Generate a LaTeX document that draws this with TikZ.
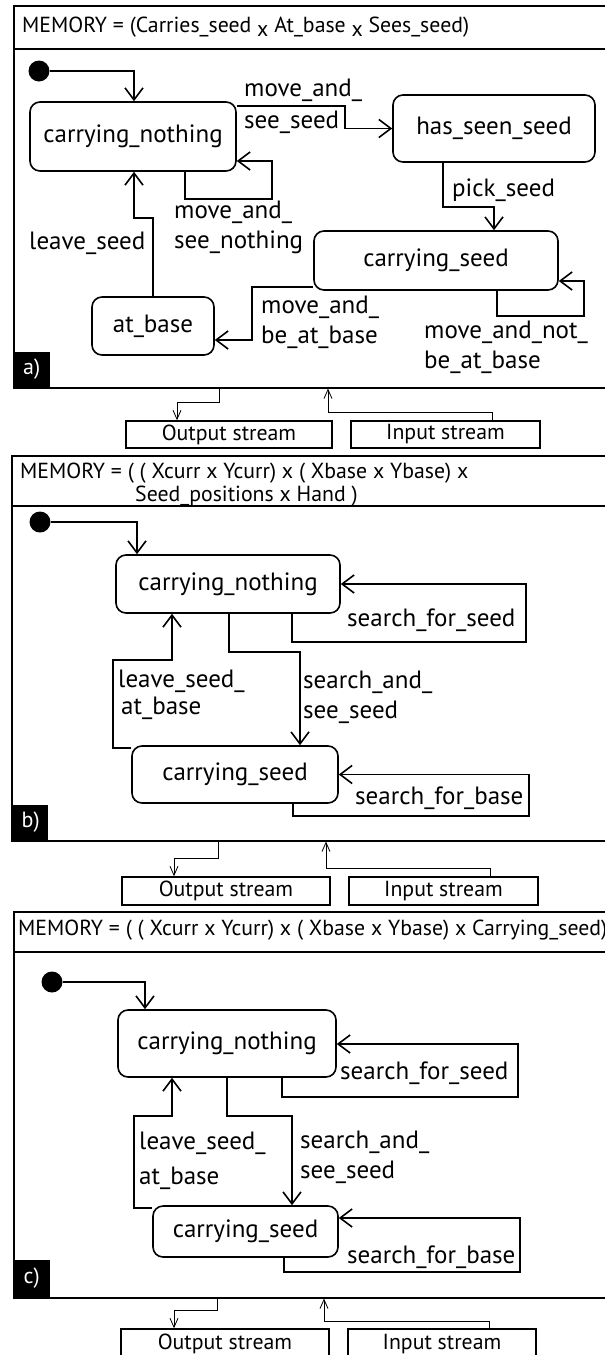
\documentclass[tikz,border=0pt]{standalone}
\usepackage{fontspec}
\setmainfont{PT Sans}
\usetikzlibrary{arrows.meta}
\begin{document}
\begin{tikzpicture}[x=1pt,y=-1pt,
  state/.style={draw, rounded corners=10pt, line width=1.6pt, inner sep=0pt,
    font=\fontsize{25}{29}\selectfont},
  lbl/.style={inner sep=0pt, anchor=west, align=left,
    font=\fontsize{25}{30}\selectfont},
  head/.style={inner sep=0pt, anchor=west, align=left,
    font=\fontsize{21.8}{23}\selectfont},
  panel/.style={draw, line width=1.6pt, inner sep=0pt, anchor=north west},
  sepline/.style={line width=1.6pt},
  tr/.style={line width=1.6pt, -{Straight Barb[length=12pt,width=18pt]}},
  io/.style={line width=0.8pt, -{Straight Barb[length=9pt,width=8pt]}},
  stream/.style={draw, line width=1.6pt, inner sep=0pt,
    font=\fontsize{21.8}{23}\selectfont},
  tag/.style={fill=black, text=white, inner sep=0pt, anchor=south west,
    font=\fontsize{22}{23}\selectfont},
  start/.style={circle, fill=black, inner sep=0pt, minimum size=21pt},
]
\useasboundingbox (0,0) rectangle (605,1355);
\fill[white] (0,0) rectangle (605,1355);

% ---------------- a) ----------------
\node[panel, minimum width=607pt, minimum height=382pt] (fa) at (13,5) {};
\draw[sepline] (13,49) -- (620,49);
\node[head] (ha) at (22,27) {MEMORY = (Carries\_seed \raisebox{-0.2em}{x} At\_base \raisebox{-0.2em}{x} Sees\_seed)};
\node[start] (dotA) at (39,71) {};
\node[state, minimum width=206pt, minimum height=69pt] (cnA) at (133,136.5) {carrying\_nothing};
\node[state, minimum width=202pt, minimum height=67pt] (hsA) at (494,128.5) {has\_seen\_seed};
\node[state, minimum width=244pt, minimum height=59pt] (csA) at (436,260.5) {carrying\_seed};
\node[state, minimum width=122pt, minimum height=58pt] (abA) at (153,326) {at\_base};

\draw[tr] (dotA.east) -| (cnA.north -| 134,0);
\draw[tr] (cnA.east |- 0,106) -- (345,106) |- (hsA.west);
\draw[tr] (cnA.south -| 185,0) |- (272,199) |- (cnA.east |- 0,161);
\draw[tr] (hsA.south -| 443,0) |- (494,207) -- (csA.north -| 494,0);
\draw[tr] (csA.south -| 497,0) |- (584,316) |- (csA.east |- 0,281);
\draw[tr] (csA.west |- 0,287) -| (252,340) -- (abA.east |- 0,340);
\draw[tr] (abA.north -| 153,0) |- (134,218) -- (cnA.south -| 134,0);

\node[lbl] (l1a) at (244,106) {move\_and\_\\[2pt]see\_seed};
\node[lbl] (l2a) at (174,227) {move\_and\_\\see\_nothing};
\node[lbl] (l3a) at (29,243) {leave\_seed};
\node[lbl] (l4a) at (452,190) {pick\_seed};
\node[lbl] (l5a) at (261,322) {move\_and\_\\be\_at\_base};
\node[lbl] (l6a) at (424,347.5) {move\_and\_not\_\\be\_at\_base};

\node[tag, minimum width=37pt, minimum height=35pt] (ta) at (13,387) {a)};
\node[stream, minimum width=206pt, minimum height=27pt] (outA) at (229,434.5) {Output stream};
\node[stream, minimum width=189pt, minimum height=27pt] (inA) at (445.5,434.5) {Input stream};
\draw[io] (fa.south -| 219,0) |- (177,402) -- (outA.north -| 177,0);
\draw[io] (inA.north -| 492,0) |- (328,412) -- (fa.south -| 328,0);

% ---------------- b) ----------------
\node[panel, minimum width=609pt, minimum height=385pt] (fb) at (11,455) {};
\draw[sepline] (11,506) -- (620,506);
\node[head] (hb) at (20,484.5) {MEMORY = ( ( Xcurr x Ycurr) x ( Xbase x Ybase) x\\\hspace*{115pt}Seed\_positions x Hand )};
\node[start] (dotB) at (40,522) {};
\node[state, minimum width=224pt, minimum height=58pt] (cnB) at (228,584) {carrying\_nothing};
\node[state, minimum width=206pt, minimum height=57pt] (csB) at (235,774.5) {carrying\_seed};

\draw[tr] (dotB.east) -| (cnB.north -| 137,0);
\draw[tr] (cnB.south -| 292,0) |- (526,642) |- (cnB.east);
\draw[tr] (cnB.south -| 229,0) |- (300,652) -- (csB.north -| 300,0);
\draw[tr] (csB.west |- 0,748) -| (113,660) -| (cnB.south -| 172,0);
\draw[tr] (csB.south -| 293,0) |- (529,816) |- (csB.east);

\node[lbl] (l1b) at (118,695) {leave\_seed\_\\[-3pt]\hspace*{3pt}at\_base};
\node[lbl] (l2b) at (303,697) {search\_and\_\\see\_seed};
\node[lbl] (l3b) at (347,620) {search\_for\_seed};
\node[lbl] (l4b) at (355,798) {search\_for\_base};

\node[tag, minimum width=35pt, minimum height=35pt] (tb) at (13,840) {b)};
\node[stream, minimum width=208pt, minimum height=28pt] (outB) at (226,891) {Output stream};
\node[stream, minimum width=189pt, minimum height=28pt] (inB) at (443.5,891) {Input stream};
\draw[io] (fb.south -| 218,0) |- (174,858) -- (outB.north -| 174,0);
\draw[io] (inB.north -| 490,0) |- (326,868) -- (fb.south -| 326,0);

% ---------------- c) ----------------
\node[panel, minimum width=607pt, minimum height=386pt] (fc) at (13,911) {};
\draw[sepline] (13,952) -- (620,952);
\node[head] (hc) at (18,930) {MEMORY = ( ( Xcurr x Ycurr) x ( Xbase x Ybase) x Carrying\_seed)};
\node[start] (dotC) at (52,982) {};
\node[state, minimum width=218pt, minimum height=67pt] (cnC) at (227,1043.5) {carrying\_nothing};
\node[state, minimum width=185pt, minimum height=51pt] (csC) at (245.5,1231.5) {carrying\_seed};

\draw[tr] (dotC.east) -| (cnC.north -| 145,0);
\draw[tr] (cnC.south -| 282,0) |- (518,1097) |- (cnC.east |- 0,1044);
\draw[tr] (cnC.south -| 227,0) |- (292,1116) -- (csC.north -| 292,0);
\draw[tr] (csC.west |- 0,1208) -| (134,1116) -| (cnC.south -| 172,0);
\draw[tr] (csC.south -| 284,0) |- (520,1272) |- (csC.east |- 0,1218);

\node[lbl] (l1c) at (139,1160.5) {leave\_seed\_\\[5pt]at\_base};
\node[lbl] (l2c) at (300,1157) {search\_and\_\\see\_seed};
\node[lbl] (l3c) at (340,1073) {search\_for\_seed};
\node[lbl] (l4c) at (347,1257) {search\_for\_base};

\node[tag, minimum width=37pt, minimum height=37pt] (tc) at (13,1297) {c)};
\node[stream, minimum width=208pt, minimum height=30pt] (outC) at (225,1344) {Output stream};
\node[stream, minimum width=188pt, minimum height=30pt] (inC) at (442,1344) {Input stream};
\draw[io] (fc.south -| 217,0) |- (174,1310) -- (outC.north -| 174,0);
\draw[io] (inC.north -| 489,0) |- (324,1321) -- (fc.south -| 324,0);
\end{tikzpicture}
\end{document}
